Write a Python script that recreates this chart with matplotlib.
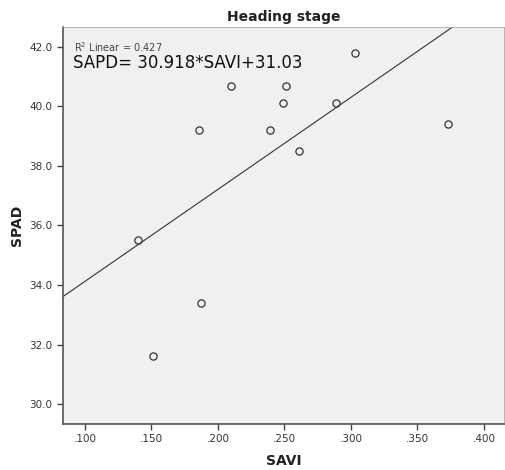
import numpy as np
import matplotlib.pyplot as plt

# ---- data ----
savi = [0.140, 0.151, 0.186, 0.187, 0.210, 0.239, 0.249, 0.251, 0.261, 0.289, 0.303, 0.373]
spad = [35.5, 31.6, 39.2, 33.4, 40.7, 39.2, 40.1, 40.7, 38.5, 40.1, 41.8, 39.4]
slope, intercept = 30.918, 31.03
x_ticks = [0.100, 0.150, 0.200, 0.250, 0.300, 0.350, 0.400]
y_ticks = [30.0, 32.0, 34.0, 36.0, 38.0, 40.0, 42.0]
x_lim = (0.0835, 0.415)
y_lim = (29.33, 42.67)

fig = plt.figure(figsize=(5.05, 4.7), dpi=100)
ax = fig.add_axes([0.1248, 0.0979, 0.873, 0.8447])
ax.set_facecolor("#f0f0f0")

# fit line across the whole axis
xs = np.array(x_lim)
ax.plot(xs, slope * xs + intercept, color="#333333", lw=0.8)

ax.plot(savi, spad, "o", mfc="none", mec="#333333", mew=0.9, ms=5.2)

ax.set_xlim(*x_lim)
ax.set_ylim(*y_lim)
ax.set_xticks(x_ticks)
ax.set_xticklabels([f"{t:.3f}"[1:] for t in x_ticks])
ax.set_yticks(y_ticks)
ax.set_yticklabels([f"{t:.1f}" for t in y_ticks])
ax.tick_params(direction="out", length=4, width=1, color="#444444",
               labelsize=7.5, labelcolor="#333333")

for s in ["left", "bottom"]:
    ax.spines[s].set_color("#555555")
    ax.spines[s].set_linewidth(1.2)
for s in ["top", "right"]:
    ax.spines[s].set_color("#aaaaaa")
    ax.spines[s].set_linewidth(0.6)

ax.set_xlabel("SAVI", fontsize=10, fontweight="bold", color="#222222", labelpad=7)
ax.set_ylabel("SPAD", fontsize=10, fontweight="bold", color="#222222", labelpad=4)
ax.set_title("Heading stage", fontsize=10, fontweight="bold", color="#222222", pad=4)

ax.text(0.024, 0.949, r"R$^2$ Linear = 0.427", transform=ax.transAxes,
        fontsize=7, color="#444444", va="center")
ax.text(0.022, 0.909, "SAPD= 30.918*SAVI+31.03", transform=ax.transAxes,
        fontsize=12, color="#111111", va="center")

fig.savefig("out.png", dpi=100)
